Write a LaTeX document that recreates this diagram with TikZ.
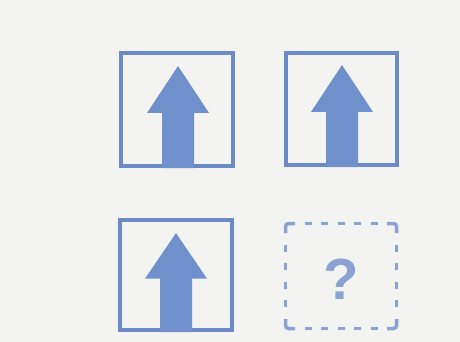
\documentclass[tikz,border=0pt]{standalone}
\usepackage{fontspec}
\setmainfont{Liberation Sans}
\definecolor{bg}{HTML}{F3F3F1}
\definecolor{frameblue}{HTML}{6B8AC6}
\definecolor{arrowblue}{HTML}{7090CC}
\definecolor{dashblue}{HTML}{8AA3D4}
\begin{document}
\begin{tikzpicture}[x=1pt,y=-1pt,
  box/.style={draw=frameblue, line width=4pt, minimum width=112pt, minimum height=113pt, inner sep=0pt},
  dashline/.style={draw=dashblue, line width=3.5pt},
  uparrow/.pic={\fill[arrowblue] (-16,0) -- (-16,-55) -- (-31,-55) -- (0,-102) -- (31,-55) -- (16,-55) -- (16,0) -- cycle;}
]
\fill[bg] (0,0) rectangle (460,342);
\useasboundingbox (0,0) rectangle (460,342);
% boxes
\node[box] (b1) at (177,109.5) {};
\node[box, minimum width=111pt, minimum height=112pt] (b2) at (341.5,109) {};
\node[box, minimum height=110pt] (b3) at (176,275) {};
% arrows
\pic at ([xshift=1pt]b1.south) {uparrow};
\pic at ([xshift=0.5pt]b2.south) {uparrow};
\pic[yscale=0.97] at (b3.south) {uparrow};
% dashed box
\coordinate (d1) at (285.5,223.5);
\coordinate (d2) at (396.5,328.5);
\draw[dashline, rounded corners=3pt] (285.5,233) |- (295,223.5);
\draw[dashline, rounded corners=3pt] (387,223.5) -| (396.5,233);
\draw[dashline, rounded corners=3pt] (396.5,319) |- (387,328.5);
\draw[dashline, rounded corners=3pt] (295,328.5) -| (285.5,319);
\foreach \i in {0,...,4}{
  \draw[dashline] (304.5+16.5*\i,223.5) -- ++(7,0);
  \draw[dashline] (304.5+16.5*\i,328.5) -- ++(7,0);
}
\foreach \i in {0,...,3}{
  \draw[dashline] (285.5,244.6+18.6*\i) -- ++(0,7);
  \draw[dashline] (396.5,244.6+18.6*\i) -- ++(0,7);
}
\node[font=\fontsize{58}{58}\selectfont\bfseries, text=dashblue, inner sep=0pt] (q) at (341,279) {?};
\end{tikzpicture}
\end{document}
